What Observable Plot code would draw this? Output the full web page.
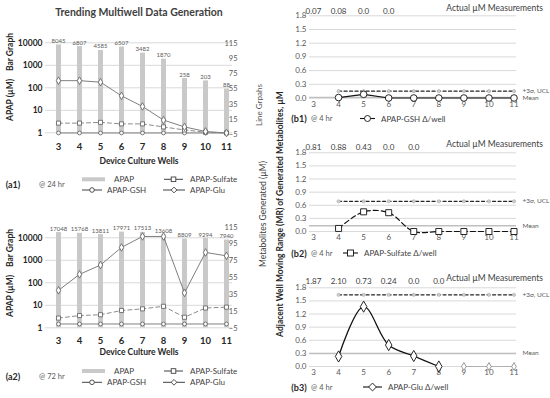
<!DOCTYPE html>
<html><head><meta charset="utf-8">
<script src="https://cdn.jsdelivr.net/npm/d3@7"></script>
<script src="https://cdn.jsdelivr.net/npm/@observablehq/plot@0.6"></script>
<style>
body{margin:0;background:#fff}
#root{position:relative;width:550px;height:398px;overflow:hidden;background:#fff}
</style></head><body><div id="root"></div>
<script>
// ---------- data ----------
const wells = [3,4,5,6,7,8,9,10,11];
const apap24 = [8045,6807,4585,6507,3482,1870,258,203,88];
const glu24 = [66,66,64,46,32,14,5,-1,-3];
const sulfate24 = [10,10,11,9,9,5,1,-2,-3];
const gsh24 = [-3,-3,-3,-3,-3,-3,-3,-3,-3];
const apap72 = [17048,15768,13811,17971,17513,13608,8809,9294,7940];
const glu72 = [40,59,70,91,104,104,37,85,81];
const sulfate72 = [7,10,11,16,18,21,8,19,20];
const gsh72 = [0,0,0,0,0,0,0,0,0];
const logTicks = [1,10,100,1000,10000];
const lineTicks = [-5,15,35,55,75,95,115];

const mrWells = [4,5,6,7,8,9,10,11];
const mrTicks = [0,0.3,0.6,0.9,1.2,1.5,1.8];
const gshActual = ["0.07","0.08","0.0","0.0"];
const sulfateActual = ["0.81","0.88","0.43","0.0","0.0"];
const gluActual = ["1.87","2.10","0.73","0.24","0.0","0.0"];
const gshMR = [0.01,0.08,0,0,0,0,0,0];
const sulfateMR = [0.07,0.45,0.43,0,0,0,0,0];
const gluMR = [0.23,1.37,0.49,0.24,0,0,0,0];
const gshMean = 0.01, gshUCL = 0.15;
const sulfateMean = 0.13, sulfateUCL = 0.69;
const gluMean = 0.3, gluUCL = 1.64;

// ---------- helpers ----------
const FONT = "Lato, 'Open Sans', sans-serif";
const root = document.getElementById("root");
function overlay(opts) {
  const svg = Plot.plot({
    width: 550, height: 398,
    style: `position:absolute;left:0;top:0;background:transparent;font-family:${FONT};overflow:visible;`,
    ...opts
  });
  root.appendChild(svg);
}

// ---------- left panels (bars + lines, dual axis) ----------
function leftPanel(apap, glu, sul, gsh, fb, yRange, y2Range) {
  const data = wells.map((w, i) => ({w, apap: apap[i], glu: glu[i], sul: sul[i], gsh: gsh[i]}));
  const common = {
    marginLeft: 45, marginRight: 318, marginTop: yRange[1], marginBottom: 398 - fb
  };
  overlay({
    ...common,
    x: {type: "point", domain: wells, range: [57, 227.5], padding: 0},
    y: {type: "log", domain: [1, 10000], range: yRange},
    marks: [
      Plot.gridY(logTicks, {stroke: "#d9d9d9", strokeOpacity: 1}),
      Plot.ruleX(data, {x: "w", y1: 1, y2: "apap", stroke: "#c9c9c9", strokeWidth: 5}),
      Plot.text(data, {x: "w", y: "apap", text: d => String(d.apap), lineAnchor: "bottom", dy: -2, fontSize: 6, fill: "#595959"}),
      Plot.axisY(logTicks, {tickSize: 0, tickPadding: 3, tickFormat: d => String(d), fontSize: 8.5, fontWeight: "bold", fill: "#262626", label: null}),
      Plot.axisX(wells, {tickSize: 0, tickPadding: 8.5, fontSize: 9.5, fontWeight: "bold", fill: "#262626", label: null})
    ]
  });
  overlay({
    ...common,
    x: {type: "point", domain: wells, range: [57, 227.5], padding: 0, axis: null},
    y: {domain: [-5, 115], range: y2Range},
    marks: [
      Plot.axisY(lineTicks, {anchor: "right", tickSize: 0, tickPadding: 5, textAnchor: "end", fontSize: 7.5, fill: "#595959", label: null}),
      Plot.line(data, {x: "w", y: "gsh", stroke: "#7f7f7f", strokeWidth: 1}),
      Plot.line(data, {x: "w", y: "sul", stroke: "#8c8c8c", strokeWidth: 1, strokeDasharray: "4,3"}),
      Plot.line(data, {x: "w", y: "glu", stroke: "#7f7f7f", strokeWidth: 1}),
      Plot.dot(data, {x: "w", y: "gsh", r: 1.9, fill: "white", stroke: "#595959", strokeWidth: 0.8}),
      Plot.dot(data, {x: "w", y: "sul", symbol: "square", r: 2.3, fill: "white", stroke: "#595959", strokeWidth: 0.8}),
      Plot.dot(data, {x: "w", y: "glu", symbol: "diamond", r: 2.3, fill: "white", stroke: "#595959", strokeWidth: 0.8})
    ]
  });
}
leftPanel(apap24, glu24, sulfate24, gsh24, 134, [132.3, 42.3], [134, 43]);
leftPanel(apap72, glu72, sulfate72, gsh72, 328, [327.3, 237.3], [327.7, 226.7]);

// ---------- right panels (moving range) ----------
function mrPanel(mr, actual, mean, ucl, y0, y18, labelY, kind) {
  const data = mrWells.map((w, i) => ({w, v: mr[i]}));
  const uclData = mrWells.map(w => ({w, v: ucl}));
  const act = actual.map((s, i) => ({w: wells[i], s}));
  const series = [];
  if (kind === "gsh") {
    series.push(
      Plot.line(data, {x: "w", y: "v", stroke: "#111", strokeWidth: 1.2}),
      Plot.dot(data, {x: "w", y: "v", r: 3.3, fill: "white", stroke: "#111", strokeWidth: 0.9})
    );
  } else if (kind === "sul") {
    series.push(
      Plot.line(data, {x: "w", y: "v", curve: "catmull-rom", stroke: "#111", strokeWidth: 1.2, strokeDasharray: "5,3"}),
      Plot.dot(data, {x: "w", y: "v", symbol: "square", r: 3.4, fill: "white", stroke: "#111", strokeWidth: 0.9})
    );
  } else {
    series.push(
      Plot.line(data, {filter: d => d.w <= 8, x: "w", y: "v", curve: "catmull-rom", stroke: "#111", strokeWidth: 1.3}),
      Plot.line(data, {filter: d => d.w >= 9, x: "w", y: "v", stroke: "#a6a6a6", strokeWidth: 0.8}),
      Plot.dot(data, {filter: d => d.w <= 8, x: "w", y: "v", symbol: "diamond", r: 3.4, fill: "white", stroke: "#111", strokeWidth: 0.9}),
      Plot.dot(data, {filter: d => d.w >= 9, x: "w", y: "v", symbol: "diamond", r: 2.4, fill: "white", stroke: "#7f7f7f", strokeWidth: 0.8})
    );
  }
  overlay({
    marginLeft: 309, marginRight: 34, marginTop: y18, marginBottom: 398 - y0,
    x: {domain: [3, 11], range: [313, 513.5]},
    y: {domain: [0, 1.8], range: [y0, y18]},
    marks: [
      Plot.gridY(mrTicks, {stroke: "#d9d9d9", strokeOpacity: 1}),
      Plot.axisY(mrTicks, {tickSize: 0, tickPadding: 3, tickFormat: d3.format(".1f"), fontSize: 8, fill: "#595959", label: null}),
      Plot.axisX(wells, {tickSize: 0, tickPadding: 3, fontSize: 8, fill: "#595959", label: null}),
      Plot.ruleY([mean], {stroke: "#bfbfbf", strokeWidth: 1.5}),
      Plot.text([mean], {y: d => d, frameAnchor: "right", dx: 6, textAnchor: "start", text: () => "Mean", fontSize: 6.5, fill: "#595959"}),
      Plot.line(uclData, {x: "w", y: "v", stroke: "#262626", strokeWidth: 1.3, strokeDasharray: "3,2.5"}),
      Plot.dot(uclData, {x: "w", y: "v", r: 1.6, fill: "#d0d0d0", stroke: "#a6a6a6", strokeWidth: 0.6}),
      Plot.text([ucl], {y: d => d, frameAnchor: "right", dx: 6, textAnchor: "start", text: () => "+3σ, UCL", fontSize: 6.5, fill: "#595959"}),
      ...series,
      Plot.text(act, {x: "w", text: "s", frameAnchor: "top", dy: labelY - y18, fontSize: 8, fill: "#404040"})
    ]
  });
}
mrPanel(gshMR, gshActual, gshMean, gshUCL, 97.5, 15.3, 8.3, "gsh");
mrPanel(sulfateMR, sulfateActual, sulfateMean, sulfateUCL, 231, 152.3, 144.3, "sul");
mrPanel(gluMR, gluActual, gluMean, gluUCL, 366, 287.3, 277.7, "glu");

// ---------- annotations & legends ----------
const ann = d3.create("svg").attr("width", 550).attr("height", 398)
  .attr("style", `position:absolute;left:0;top:0;font-family:${FONT};overflow:visible`);
function T(s, x, y, o = {}) {
  const t = ann.append("text").attr("x", x).attr("y", y)
    .attr("text-anchor", o.anchor || "middle").attr("dominant-baseline", "central")
    .attr("font-size", o.size || 8).attr("font-weight", o.weight || 400)
    .attr("fill", o.color || "#404040").text(s);
  if (o.rotate) t.attr("transform", `rotate(${o.rotate},${x},${y})`);
  return t;
}
function marker(sym, cx, cy, r, stroke, sw) {
  if (sym === "circle") ann.append("circle").attr("cx", cx).attr("cy", cy).attr("r", r).attr("fill", "white").attr("stroke", stroke).attr("stroke-width", sw);
  else if (sym === "square") ann.append("rect").attr("x", cx - r).attr("y", cy - r).attr("width", 2 * r).attr("height", 2 * r).attr("fill", "white").attr("stroke", stroke).attr("stroke-width", sw);
  else ann.append("path").attr("d", `M${cx},${cy - r * 1.3}L${cx + r * 1.3},${cy}L${cx},${cy + r * 1.3}L${cx - r * 1.3},${cy}Z`).attr("fill", "white").attr("stroke", stroke).attr("stroke-width", sw);
}
function sw(x1, x2, y, sym, r, stroke, w, dash) {
  const l = ann.append("line").attr("x1", x1).attr("x2", x2).attr("y1", y).attr("y2", y).attr("stroke", stroke).attr("stroke-width", w);
  if (dash) l.attr("stroke-dasharray", dash);
  marker(sym, (x1 + x2) / 2, y, r, stroke, 0.9);
}

T("Trending Multiwell Data Generation", 139, 12, {size: 10.5, weight: 700, color: "#404040"});
// left axis titles
[[52, 100], [248, 296]].forEach(([bg, ap]) => {
  T("Bar Graph", 10, bg, {size: 8.5, weight: 700, color: "#262626", rotate: -90});
  T("APAP (µM)", 10, ap, {size: 8.5, weight: 700, color: "#262626", rotate: -90});
});
T("Device Culture Wells", 139, 161, {size: 8.5, weight: 700, color: "#262626"});
T("Device Culture Wells", 139, 351.5, {size: 8.5, weight: 700, color: "#262626"});
T("Line Grpahs", 259, 105, {size: 8, color: "#595959", rotate: -90});
T("Metabolites Generated (µM)", 263, 214, {size: 8.5, color: "#404040", rotate: -90});
T("Adjacent Well Moving Range (MR) of Generated Metabolites, µM", 280, 214, {size: 8.5, weight: 700, color: "#262626", rotate: -90});

// left legends
function leftLegend(tag, when, r1, r2) {
  const mid = (r1 + r2) / 2;
  T(tag, 13, mid, {size: 9, weight: 700, color: "#262626"});
  T(when, 39, mid, {anchor: "start", size: 7.5, color: "#595959"});
  ann.append("rect").attr("x", 82).attr("y", r1 - 2).attr("width", 23).attr("height", 4).attr("fill", "#c9c9c9");
  T("APAP", 114, r1, {anchor: "start"});
  sw(82, 102, r2, "circle", 2.3, "#404040", 1);
  T("APAP-GSH", 107, r2, {anchor: "start"});
  sw(164, 183, r1, "square", 2.3, "#404040", 1);
  T("APAP-Sulfate", 190, r1, {anchor: "start"});
  sw(163, 185, r2, "diamond", 2.2, "#404040", 1);
  T("APAP-Glu", 190, r2, {anchor: "start"});
}
leftLegend("(a1)", "@ 24 hr", 179.3, 190);
leftLegend("(a2)", "@ 72 hr", 371, 382.3);

// right legends & headers
function rightLegend(tag, y, x1, x2, sym, text, dash) {
  T(tag, 299, y, {size: 9, weight: 700, color: "#262626"});
  T("@ 4 hr", 311, y, {anchor: "start", size: 7.5, color: "#595959"});
  sw(x1, x2, y, sym, 3, "#111", 1.1, dash);
  T(text, x2 + 6, y, {anchor: "start"});
}
rightLegend("(b1)", 118.5, 360, 375, "circle", "APAP-GSH Δ/well");
rightLegend("(b2)", 253, 343, 358, "square", "APAP-Sulfate Δ/well");
rightLegend("(b3)", 387, 363, 382, "diamond", "APAP-Glu Δ/well");
[8.3, 144.3, 277.7].forEach(y => T("Actual µM Measurements", 543, y, {anchor: "end", size: 8.5}));

root.appendChild(ann.node());
</script>
</body></html>
